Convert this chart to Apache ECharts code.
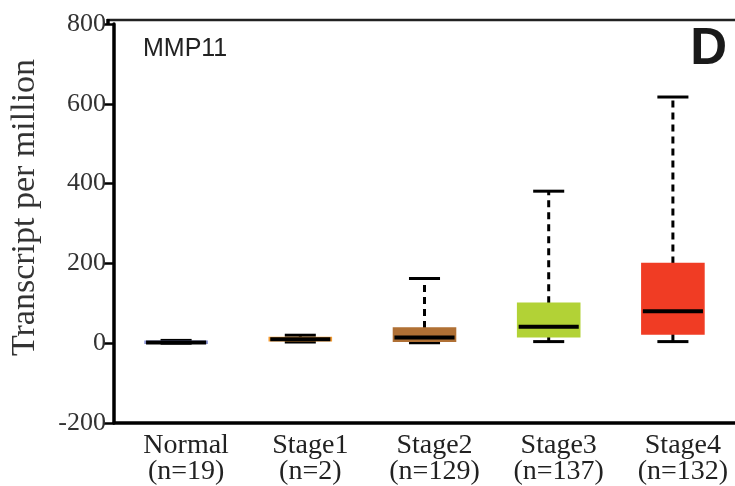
<!DOCTYPE html>
<html>
<head>
<meta charset="utf-8">
<script src="https://cdn.jsdelivr.net/npm/echarts@6/dist/echarts.min.js"></script>
<style>
  html, body { margin: 0; padding: 0; background: #fff; }
  #chart { width: 735px; height: 486px; }
</style>
</head>
<body>
<div id="chart"></div>
<script>
// box plot values (transcripts per million)
const categories = ['Normal\n(n=19)', 'Stage1\n(n=2)', 'Stage2\n(n=129)', 'Stage3\n(n=137)', 'Stage4\n(n=132)'];
const mins    = [0, 3, 1, 4, 4];
const q1s     = [1, 6, 5, 16, 23];
const medians = [2, 10, 14, 41, 80];
const q3s     = [5, 14, 38, 100, 200];
const maxs    = [7, 20, 162, 381, 617];
const boxColors  = ['#8a94d4', '#f29a32', '#b07035', '#b2d236', '#f03c24'];
const yTicks = { min: -200, max: 800, interval: 200 };

const chart = echarts.init(document.getElementById('chart'));

const boxData = categories.map((c, i) => [i, mins[i], q1s[i], medians[i], q3s[i], maxs[i]]);

function renderBox(params, api) {
  const i = api.value(0);
  const catW = api.size([1, 0])[0];
  const bw = catW * 0.5;
  const capW = bw * 0.5;
  const pMin = api.coord([i, api.value(1)]);
  const pQ1 = api.coord([i, api.value(2)]);
  const pMed = api.coord([i, api.value(3)]);
  const pQ3 = api.coord([i, api.value(4)]);
  const pMax = api.coord([i, api.value(5)]);
  const cx = pMed[0];
  const color = boxColors[params.dataIndex];
  const dashed = { stroke: '#000', lineWidth: 3, lineDash: [7, 5] };
  const solid = { stroke: '#000', lineWidth: 3 };
  return {
    type: 'group',
    children: [
      { type: 'line', shape: { x1: cx, y1: pQ3[1], x2: cx, y2: pMax[1] }, style: dashed },
      { type: 'line', shape: { x1: cx, y1: pQ1[1], x2: cx, y2: pMin[1] }, style: dashed },
      { type: 'line', shape: { x1: cx - capW / 2, y1: pMax[1], x2: cx + capW / 2, y2: pMax[1] }, style: solid },
      { type: 'line', shape: { x1: cx - capW / 2, y1: pMin[1], x2: cx + capW / 2, y2: pMin[1] }, style: solid },
      { type: 'rect', shape: { x: cx - bw / 2, y: pQ3[1], width: bw, height: Math.max(pQ1[1] - pQ3[1], 2) },
        style: { fill: color, stroke: color, lineWidth: 1.5 } },
      { type: 'line', shape: { x1: cx - bw / 2 + 1, y1: pMed[1], x2: cx + bw / 2 - 1, y2: pMed[1] },
        style: { stroke: '#000', lineWidth: 4 } }
    ]
  };
}

chart.setOption({
  animation: false,
  backgroundColor: '#fff',
  grid: { left: 108, right: -1, top: 24, bottom: 63 },
  title: {
    text: 'MMP11', left: 138, top: 32,
    textStyle: { fontFamily: 'Liberation Sans', fontSize: 25, fontWeight: 'normal', color: '#222' }
  },
  graphic: [
    { type: 'line', shape: { x1: 107, y1: 20, x2: 735, y2: 20 }, style: { stroke: '#222', lineWidth: 2.5 } },
    { type: 'line', shape: { x1: 108, y1: 19, x2: 108, y2: 25 }, style: { stroke: '#000', lineWidth: 3.5 } },
    { type: 'text', right: 8, top: 24,
      style: { text: 'D', fontFamily: 'Liberation Sans', fontSize: 51, fontWeight: 'bold', fill: '#1a1a1a' } }
  ],
  xAxis: {
    type: 'category',
    data: categories,
    boundaryGap: true,
    axisLine: { onZero: false, lineStyle: { color: '#000', width: 3.5 } },
    axisTick: { length: 9, lineStyle: { color: '#b6cadf', width: 2 } },
    axisLabel: {
      margin: 10, interval: 0, padding: [0, 0, 0, 20],
      fontFamily: 'Liberation Serif', fontSize: 28, lineHeight: 26, color: '#222'
    },
    splitLine: { show: false }
  },
  yAxis: {
    type: 'value',
    min: yTicks.min, max: yTicks.max, interval: yTicks.interval,
    name: 'Transcript per million',
    nameLocation: 'middle',
    nameGap: 72,
    nameTextStyle: { fontFamily: 'Liberation Serif', fontSize: 34, color: '#333', padding: [0, 0, 0, 32] },
    axisLine: { show: true, lineStyle: { color: '#000', width: 3.5 } },
    axisTick: { show: true, length: 10, lineStyle: { color: '#000', width: 2.5 } },
    axisLabel: { margin: 8, fontFamily: 'Liberation Serif', fontSize: 26, color: '#333' },
    splitLine: { show: false }
  },
  series: [{
    type: 'custom',
    renderItem: renderBox,
    data: boxData,
    encode: { x: 0, y: [1, 2, 3, 4, 5] }
  }]
});
</script>
</body>
</html>
